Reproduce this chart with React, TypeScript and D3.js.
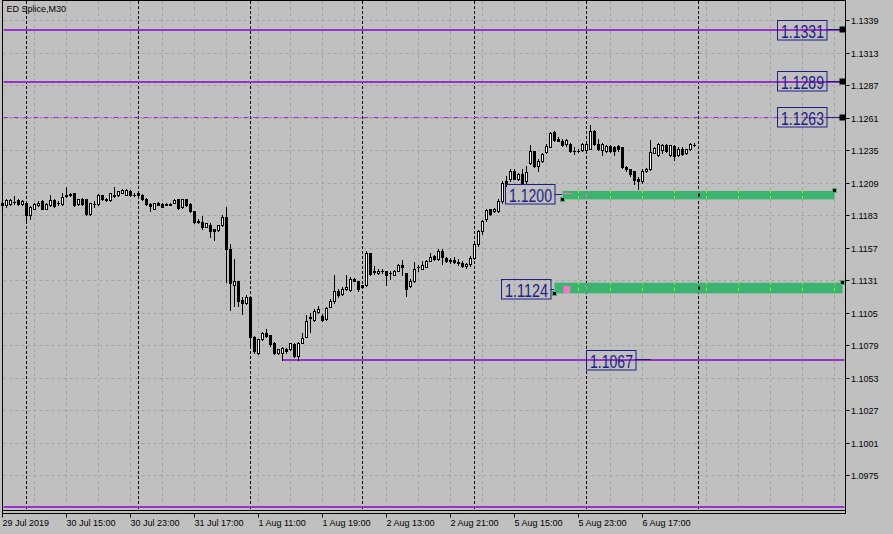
import React from "react";
import * as d3 from "d3";

const W = 893;
const H = 534;
const chartTitle = "ED Splice,M30";

// OHLC of the M30 bars, left to right
const openPrices = [
  1.11908, 1.11908, 1.11916, 1.11937, 1.11948, 1.11919, 1.11929, 1.11828, 1.11881, 1.11908,
  1.1194, 1.11881, 1.11908, 1.11948, 1.11929, 1.11919, 1.11988, 1.11988, 1.12004, 1.11919,
  1.11961, 1.11956, 1.11839, 1.11919, 1.11919, 1.11988, 1.11961, 1.11951, 1.11983, 1.11988,
  1.12009, 1.11993, 1.12025, 1.11993, 1.12004, 1.11993, 1.11961, 1.11919, 1.11881, 1.11929,
  1.11919, 1.11913, 1.11919, 1.11929, 1.11956, 1.11895, 1.11956, 1.11919, 1.1186, 1.11783,
  1.11774, 1.11737, 1.11753, 1.11716, 1.1171, 1.11748, 1.11817, 1.11561, 1.11273, 1.113,
  1.1115, 1.11124, 1.11177, 1.10857, 1.10724, 1.10836, 1.10884, 1.10868, 1.10809, 1.10724,
  1.10729, 1.10761, 1.10756, 1.10798, 1.10702, 1.10809, 1.10857, 1.11009, 1.1099, 1.11054,
  1.11022, 1.10996, 1.11097, 1.1114, 1.11225, 1.11198, 1.11236, 1.1123, 1.11321, 1.113,
  1.11268, 1.11268, 1.11524, 1.11382, 1.11364, 1.11382, 1.1138, 1.11369, 1.11353, 1.11385,
  1.11433, 1.11364, 1.11262, 1.113, 1.11417, 1.11401, 1.11417, 1.11465, 1.11502, 1.11476,
  1.11545, 1.11487, 1.1146, 1.1147, 1.11455, 1.11445, 1.11425, 1.11436, 1.1149, 1.11596,
  1.117, 1.11796, 1.11876, 1.11862, 1.11862, 1.11942, 1.12102, 1.12116, 1.12182, 1.12121,
  1.12156, 1.12102, 1.12249, 1.1234, 1.12222, 1.12262, 1.12334, 1.12377, 1.12494, 1.12441,
  1.1242, 1.12398, 1.12398, 1.12345, 1.12345, 1.1235, 1.1235, 1.12361, 1.12505, 1.12398,
  1.1235, 1.1234, 1.12382, 1.12377, 1.12382, 1.12372, 1.12217, 1.12196, 1.1218, 1.12116,
  1.121, 1.12182, 1.12196, 1.12329, 1.12308, 1.1235, 1.12393, 1.12308, 1.12382, 1.12308,
  1.12361, 1.12329, 1.12356, 1.12393,
];
const highPrices = [
  1.11943, 1.11956, 1.11961, 1.11983, 1.11956, 1.11951, 1.11935, 1.11903, 1.11929, 1.1194,
  1.11951, 1.11929, 1.11988, 1.11956, 1.1194, 1.12004, 1.12057, 1.12004, 1.12009, 1.11961,
  1.11967, 1.11961, 1.11929, 1.11943, 1.11999, 1.11993, 1.11967, 1.12009, 1.12057, 1.12025,
  1.12041, 1.12036, 1.12031, 1.12004, 1.12009, 1.11999, 1.11967, 1.11929, 1.11929, 1.11935,
  1.11924, 1.11929, 1.11924, 1.11956, 1.11961, 1.11961, 1.11961, 1.11924, 1.11865, 1.11796,
  1.11822, 1.11769, 1.11764, 1.11721, 1.11753, 1.11828, 1.11897, 1.11596, 1.11476, 1.11305,
  1.11177, 1.11188, 1.11182, 1.10862, 1.10836, 1.10894, 1.10921, 1.10873, 1.10814, 1.10761,
  1.10772, 1.10766, 1.10809, 1.10804, 1.10814, 1.10889, 1.11033, 1.11049, 1.11076, 1.11102,
  1.11036, 1.11092, 1.11161, 1.11353, 1.11236, 1.11252, 1.11348, 1.11332, 1.11326, 1.11305,
  1.11273, 1.11542, 1.11529, 1.11422, 1.11396, 1.11396, 1.11385, 1.1138, 1.11391, 1.11439,
  1.11471, 1.11369, 1.11316, 1.11455, 1.11433, 1.11465, 1.11471, 1.11524, 1.11513, 1.11556,
  1.11561, 1.11492, 1.11487, 1.11492, 1.11476, 1.11465, 1.11449, 1.115, 1.1161, 1.1171,
  1.1179, 1.11881, 1.11881, 1.11889, 1.11956, 1.12102, 1.12142, 1.12196, 1.12196, 1.12169,
  1.12196, 1.12222, 1.12393, 1.12345, 1.12276, 1.12329, 1.12398, 1.12494, 1.125, 1.12457,
  1.12441, 1.12441, 1.12404, 1.12372, 1.12361, 1.12409, 1.12404, 1.12553, 1.1251, 1.12441,
  1.12409, 1.12393, 1.12388, 1.12382, 1.12388, 1.12377, 1.12222, 1.12201, 1.12185, 1.12132,
  1.12196, 1.12209, 1.1243, 1.12377, 1.12404, 1.12398, 1.12398, 1.12393, 1.12388, 1.12372,
  1.12372, 1.12361, 1.12409, 1.12409,
];
const lowPrices = [
  1.11876, 1.11897, 1.11908, 1.11916, 1.11908, 1.11913, 1.11783, 1.11796, 1.11876, 1.11903,
  1.11876, 1.11876, 1.11903, 1.11897, 1.11913, 1.11913, 1.11977, 1.11983, 1.11903, 1.11913,
  1.11913, 1.11833, 1.11833, 1.11897, 1.11913, 1.11951, 1.11945, 1.11945, 1.11977, 1.11983,
  1.12004, 1.11988, 1.11983, 1.11983, 1.11983, 1.11951, 1.11913, 1.11865, 1.11876, 1.11908,
  1.11892, 1.11908, 1.11908, 1.11924, 1.11881, 1.11889, 1.11903, 1.11855, 1.11769, 1.11764,
  1.11721, 1.11732, 1.11657, 1.1163, 1.11705, 1.11742, 1.11294, 1.1107, 1.11102, 1.11102,
  1.11036, 1.11118, 1.10769, 1.10724, 1.10718, 1.1083, 1.10857, 1.10782, 1.10718, 1.10718,
  1.1067, 1.10724, 1.1075, 1.10697, 1.1067, 1.10804, 1.10852, 1.10894, 1.10985, 1.11049,
  1.10985, 1.1099, 1.11092, 1.11129, 1.11177, 1.11193, 1.1123, 1.11225, 1.113, 1.11225,
  1.11252, 1.11262, 1.11353, 1.11356, 1.11358, 1.11369, 1.11268, 1.11321, 1.11348, 1.1138,
  1.11353, 1.11182, 1.11257, 1.11294, 1.11382, 1.11396, 1.11412, 1.1146, 1.11471, 1.11471,
  1.11439, 1.11455, 1.11444, 1.11449, 1.1143, 1.11415, 1.11405, 1.1142, 1.1148, 1.11585,
  1.1168, 1.11783, 1.11828, 1.11854, 1.11854, 1.11929, 1.12062, 1.12102, 1.12116, 1.1211,
  1.12076, 1.12089, 1.12236, 1.12217, 1.1218, 1.12254, 1.12329, 1.12372, 1.12425, 1.1242,
  1.12382, 1.12382, 1.12334, 1.12318, 1.12334, 1.1234, 1.12345, 1.12356, 1.12393, 1.1235,
  1.12308, 1.12334, 1.12334, 1.12313, 1.12345, 1.12206, 1.1218, 1.12142, 1.12076, 1.12036,
  1.12089, 1.12174, 1.1219, 1.12324, 1.12302, 1.12329, 1.12334, 1.12302, 1.1227, 1.12302,
  1.12313, 1.12318, 1.1235, 1.12382,
];
const closePrices = [
  1.11929, 1.11948, 1.11948, 1.11932, 1.11919, 1.11943, 1.11828, 1.11897, 1.11919, 1.11929,
  1.11881, 1.11919, 1.11948, 1.11903, 1.11924, 1.11977, 1.11983, 1.11996, 1.11908, 1.11956,
  1.11919, 1.11839, 1.11924, 1.11916, 1.11988, 1.11956, 1.11951, 1.12004, 1.11988, 1.1202,
  1.12031, 1.12031, 1.11988, 1.11991, 1.11988, 1.11956, 1.11919, 1.11903, 1.11924, 1.11913,
  1.11897, 1.11919, 1.11913, 1.11948, 1.11889, 1.11956, 1.11908, 1.1186, 1.11775, 1.11775,
  1.11732, 1.11764, 1.117, 1.117, 1.11748, 1.11817, 1.11561, 1.11284, 1.113, 1.11142,
  1.11124, 1.11177, 1.10857, 1.10742, 1.10836, 1.10884, 1.10862, 1.10796, 1.10724, 1.10756,
  1.10766, 1.10742, 1.10804, 1.10702, 1.10804, 1.10846, 1.1098, 1.11017, 1.11065, 1.11076,
  1.1099, 1.11086, 1.1114, 1.1122, 1.11188, 1.11241, 1.11252, 1.11321, 1.11305, 1.11236,
  1.11257, 1.11524, 1.11358, 1.11374, 1.1138, 1.1138, 1.11353, 1.11364, 1.11385, 1.11433,
  1.11412, 1.11241, 1.113, 1.11401, 1.11412, 1.11428, 1.11465, 1.11497, 1.11481, 1.11545,
  1.11497, 1.1146, 1.1147, 1.11455, 1.11445, 1.11425, 1.11436, 1.1149, 1.11596, 1.117,
  1.1178, 1.1187, 1.11836, 1.11881, 1.11942, 1.12084, 1.12089, 1.12182, 1.12121, 1.12156,
  1.12089, 1.12174, 1.1234, 1.12222, 1.1226, 1.12318, 1.12382, 1.12489, 1.1243, 1.12425,
  1.12393, 1.1243, 1.1234, 1.12342, 1.12342, 1.12398, 1.12398, 1.12505, 1.12398, 1.12356,
  1.12398, 1.12382, 1.1234, 1.1234, 1.12356, 1.12217, 1.12196, 1.12156, 1.1211, 1.12105,
  1.12182, 1.12196, 1.12334, 1.12366, 1.12398, 1.12393, 1.1234, 1.12388, 1.12302, 1.12356,
  1.12318, 1.12356, 1.12398, 1.1239,
];

const priceTicks = [
  1.1339, 1.1313, 1.1287, 1.1261, 1.1235, 1.1209, 1.1183, 1.1157, 1.1131, 1.1105, 1.1079,
  1.1053, 1.1027, 1.1001, 1.0975,
];
const timeLabels = [
  "29 Jul 2019", "30 Jul 15:00", "30 Jul 23:00", "31 Jul 17:00", "1 Aug 11:00", "1 Aug 19:00",
  "2 Aug 13:00", "2 Aug 21:00", "5 Aug 15:00", "5 Aug 23:00", "6 Aug 17:00",
];
const timeLabelBars = [0, 16, 32, 48, 64, 80, 96, 112, 128, 144, 160];
const daySeparatorBars = [6, 34, 62, 90, 118, 146, 174];

// horizontal purple levels (full width)
const levelPrices = [1.13315, 1.129, 1.09502];
const dashedLevelPrice = 1.12617;
const levelLabelTexts = ["1.1331", "1.1289", "1.1263"];
// support line from the swing low
const supportPrice = 1.10675;
const supportStartBar = 70;
const supportLabel = "1.1067";
// rectangle zones
const zoneLabels = ["1.1200", "1.1124"];
const zoneTop = [1.12028, 1.11294];
const zoneBottom = [1.11961, 1.11209];
const zoneStartBar = [140, 138];
const zoneEndBar = [208, 210];

const BG = "#c0c0c0";
const GRID = "#a4a4a4";
const PURPLE = "#9932cc";
const GREEN = "#3cb371";
const NAVY = "#1e1e82";
const PINK = "#f07ac0";
const LIME = "#7fff00";
const FONT = "'Liberation Sans', Arial, sans-serif";

const LEFT = 2.5;
const RIGHT = 845.5;
const BOTTOM = 510.5;

export default function App() {
  const x = d3.scaleLinear().domain([0, 1]).range([2.5, 6.5]);
  const y = d3.scaleLinear().domain([1.1339, 1.0975]).range([20.7, 475.7]);
  const row = (p: number) => Math.floor(y(p)) + 0.5;

  const gridXs = d3.range(0, 211, 8).map((b) => x(b)).filter((v) => v > LEFT && v < RIGHT);
  const sepXs = daySeparatorBars.map((b) => x(b));

  const candles = openPrices.map((o, i) => {
    const c = closePrices[i];
    const h = highPrices[i];
    const l = lowPrices[i];
    const cx = x(i);
    const top = Math.floor(y(Math.max(o, c)));
    const bot = Math.floor(y(Math.min(o, c)));
    const bull = c >= o;
    return (
      <g key={i}>
        <line x1={cx} x2={cx} y1={Math.floor(y(h))} y2={Math.floor(y(l)) + 1} stroke="#000" strokeWidth={1} />
        {bot - top >= 1 ? (
          <rect x={cx - 1} y={top + 0.5} width={2} height={bot - top} fill={bull ? "#fff" : "#000"} stroke="#000" strokeWidth={1} />
        ) : (
          <line x1={cx - 1.5} x2={cx + 1.5} y1={top + 0.5} y2={top + 0.5} stroke="#000" strokeWidth={1} />
        )}
      </g>
    );
  });

  const boxW = 49.5;
  const boxH = 19.5;
  const labelBox = (text: string, left: number, cy: number, key: string) => (
    <g key={key}>
      <rect x={Math.round(left) + 0.5} y={Math.round(cy - boxH / 2) + 0.5} width={boxW} height={boxH} fill="none" stroke={NAVY} strokeWidth={1} />
      <text x={Math.round(left) + 4} y={Math.round(cy - boxH / 2) + 18} fontFamily={FONT} fontSize={18.5} fill={NAVY} textLength={43} lengthAdjust="spacingAndGlyphs">
        {text}
      </text>
    </g>
  );

  const zoneEls = zoneLabels.map((lab, k) => {
    const x0 = x(zoneStartBar[k]);
    const x1 = x(zoneEndBar[k]);
    const yt = y(zoneTop[k]);
    const yb = y(zoneBottom[k]);
    return (
      <g key={"z" + k}>
        <rect x={x0} y={yt} width={x1 - x0} height={yb - yt} fill={GREEN} />
        {gridXs.filter((gx) => gx > x0 + 2 && gx < x1 - 1).map((gx, j) => (
          <line key={j} x1={gx} x2={gx} y1={yt} y2={yb} stroke={LIME} strokeDasharray="3,3" strokeDashoffset={1} />
        ))}
        {sepXs.filter((sx) => sx > x0 && sx < x1).map((sx, j) => (
          <rect key={"s" + j} x={sx - 0.5} y={(yt + yb) / 2 - 1.5} width={j === 0 ? 1 : 2} height={3} fill={j === 0 ? PINK : "#000"} />
        ))}
      </g>
    );
  });

  return (
    <svg width={W} height={H} style={{ display: "block", position: "absolute", left: 0, top: 0 }}>
      <rect x={0} y={0} width={W} height={H} fill={BG} />
      {/* grid */}
      {priceTicks.map((p, i) => (
        <line key={"hg" + i} x1={LEFT + 1} x2={RIGHT - 1} y1={row(p)} y2={row(p)} stroke={GRID} strokeDasharray="3,3" />
      ))}
      {gridXs.map((gx, i) => (
        <line key={"vg" + i} x1={gx} x2={gx} y1={1} y2={BOTTOM - 1} stroke={GRID} strokeDasharray="3,3" />
      ))}
      {sepXs.map((sx, i) => (
        <line key={"sep" + i} x1={sx} x2={sx} y1={1} y2={BOTTOM - 1} stroke="#000" strokeDasharray="3,2" />
      ))}
      {zoneEls}
      {/* levels */}
      {levelPrices.map((p, i) => (
        <line key={"lv" + i} x1={LEFT + 1} x2={RIGHT - 1} y1={Math.round(y(p))} y2={Math.round(y(p))} stroke={PURPLE} strokeWidth={2} />
      ))}
      <line x1={LEFT + 1} x2={RIGHT - 1} y1={row(dashedLevelPrice)} y2={row(dashedLevelPrice)} stroke={PURPLE} strokeWidth={1} strokeDasharray="5,2,1,2" />
      <line x1={x(supportStartBar)} x2={RIGHT - 1} y1={Math.round(y(supportPrice))} y2={Math.round(y(supportPrice))} stroke={PURPLE} strokeWidth={2} />
      {/* candles */}
      {candles}
      {/* level labels on right */}
      {[levelPrices[0], levelPrices[1], dashedLevelPrice].map((p, i) => {
        const cy = y(p) - 0.8;
        return (
          <g key={"ll" + i}>
            <line x1={827} x2={840} y1={Math.round(cy) + 0.5} y2={Math.round(cy) + 0.5} stroke={NAVY} strokeWidth={1} />
            {labelBox(levelLabelTexts[i], 777, cy, "lb" + i)}
            <rect x={839.5} y={Math.round(cy) - 2.5} width={6} height={6} fill="#000" />
          </g>
        );
      })}
      {/* zone labels */}
      {zoneLabels.map((lab, k) => {
        const cy = k === 0 ? y(zoneTop[k]) + 3 : y(zoneTop[k]) + 6;
        const boxRight = k === 0 ? x(zoneStartBar[k]) - 8 : x(zoneStartBar[k]) - 4;
        return (
          <g key={"zl" + k}>
            <line x1={boxRight} x2={x(zoneStartBar[k]) - 0.5} y1={Math.round(cy) + 0.5} y2={Math.round(cy) + 0.5} stroke={NAVY} />
            {labelBox(lab, boxRight - boxW, cy, "zb" + k)}
          </g>
        );
      })}
      {/* zone 1 pink tick, zone 2 pink square */}
      <line x1={x(zoneStartBar[0])} x2={x(zoneStartBar[0] + 2.3)} y1={Math.floor(y(zoneTop[0])) + 3.5} y2={Math.floor(y(zoneTop[0])) + 3.5} stroke={PINK} />
      <rect x={x(zoneStartBar[1] + 2.2)} y={Math.round(y(zoneTop[1])) + 3} width={7} height={7} fill={PINK} />
      {/* anchor markers */}
      {zoneLabels.map((lab, k) => (
        <g key={"mk" + k}>
          <rect x={x(zoneStartBar[k]) - 2} y={Math.round(y(zoneBottom[k])) - 1.5} width={4} height={4} fill="#000" stroke={GREEN} strokeWidth={1} />
          <rect x={x(zoneEndBar[k]) - 2} y={Math.round(y(zoneTop[k])) - 2.5} width={4} height={4} fill="#000" stroke={GREEN} strokeWidth={1} />
        </g>
      ))}
      {/* support label */}
      <line x1={635} x2={651} y1={Math.round(y(supportPrice)) - 0.5} y2={Math.round(y(supportPrice)) - 0.5} stroke={NAVY} />
      {labelBox(supportLabel, x(146) - 0.5, y(supportPrice), "sl")}
      {/* frame */}
      <line x1={LEFT} x2={RIGHT} y1={0.5} y2={0.5} stroke="#000" />
      <line x1={LEFT} x2={LEFT} y1={0} y2={514} stroke="#000" />
      <line x1={RIGHT} x2={RIGHT} y1={0} y2={514} stroke="#000" />
      <line x1={LEFT} x2={RIGHT} y1={BOTTOM} y2={BOTTOM} stroke="#000" />
      <line x1={LEFT} x2={RIGHT} y1={BOTTOM + 3} y2={BOTTOM + 3} stroke="#000" />
      {/* y axis */}
      {priceTicks.map((p, i) => (
        <g key={"yt" + i}>
          <line x1={RIGHT} x2={RIGHT + 4} y1={row(p)} y2={row(p)} stroke="#000" />
          <text x={851} y={row(p) + 3.2} fontFamily={FONT} fontSize={9} fill="#000">
            {p.toFixed(4)}
          </text>
        </g>
      ))}
      {/* x axis */}
      {timeLabels.map((t, i) => {
        const tx = x(timeLabelBars[i]);
        return (
          <g key={"xt" + i}>
            <line x1={tx} x2={tx} y1={BOTTOM + 3} y2={BOTTOM + 7} stroke="#000" />
            <text x={tx} y={526} fontFamily={FONT} fontSize={9} fill="#000">
              {t}
            </text>
          </g>
        );
      })}
      <text x={6.5} y={12} fontFamily={FONT} fontSize={9} fill="#000">
        {chartTitle}
      </text>
    </svg>
  );
}
